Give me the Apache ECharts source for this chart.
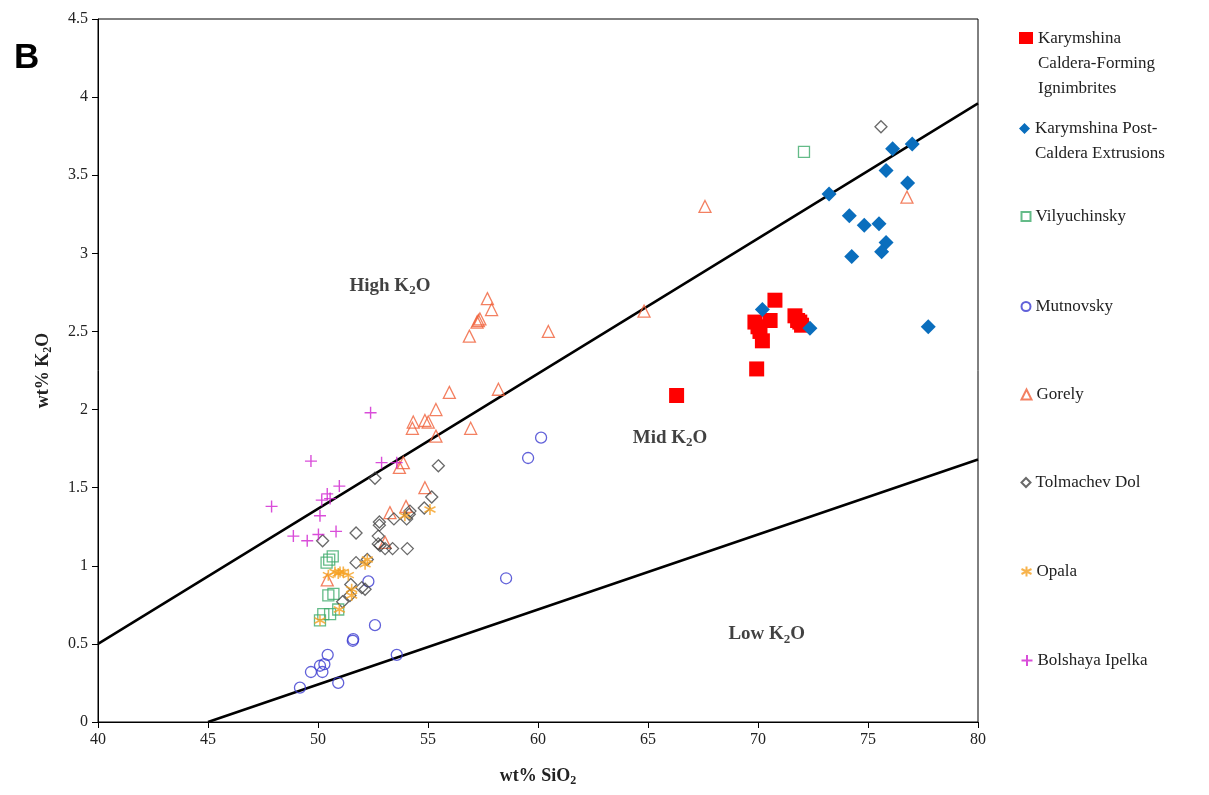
<!DOCTYPE html>
<html>
<head>
<meta charset="utf-8">
<script src="https://cdn.jsdelivr.net/npm/echarts@6/dist/echarts.min.js"></script>
<style>
  html, body { margin: 0; padding: 0; background: #fff; }
  #chart { width: 1209px; height: 795px; }
</style>
</head>
<body>
<div id="chart"></div>
<script>
// wt% SiO2 vs wt% K2O
const calderaIgnimbrites = [
  [66.3, 2.09], [70.77, 2.70], [69.86, 2.56], [70.55, 2.57], [70.09, 2.50],
  [70.2, 2.44], [69.94, 2.26], [71.68, 2.60], [71.9, 2.56], [71.98, 2.54],
  [70.0, 2.53], [71.8, 2.57]
]
const postCaldera = [
  [76.12, 3.67], [77.01, 3.70], [75.82, 3.53], [76.8, 3.45], [73.23, 3.38],
  [74.15, 3.24], [74.83, 3.18], [75.5, 3.19], [75.82, 3.07], [75.62, 3.01],
  [74.26, 2.98], [72.36, 2.52], [77.74, 2.53], [70.2, 2.64]
]
const vilyuchinsky = [
  [72.09, 3.65], [50.51, 1.04], [50.67, 1.06], [50.39, 1.02], [50.47, 0.81],
  [50.7, 0.82], [50.24, 0.69], [50.55, 0.69], [50.09, 0.65], [50.92, 0.72]
]
const mutnovsky = [
  [60.14, 1.82], [59.55, 1.69], [58.55, 0.92], [52.29, 0.90], [52.59, 0.62],
  [51.58, 0.52], [51.6, 0.53], [53.58, 0.43], [50.44, 0.43], [50.29, 0.37],
  [50.09, 0.36], [50.2, 0.32], [49.68, 0.32], [50.92, 0.25], [49.18, 0.22]
]
const gorely = [
  [57.7, 2.71], [57.89, 2.64], [57.29, 2.57], [57.36, 2.58], [57.23, 2.56],
  [56.88, 2.47], [60.47, 2.50], [55.97, 2.11], [58.2, 2.13], [55.36, 2.00],
  [54.33, 1.92], [54.29, 1.88], [54.86, 1.93], [55.01, 1.92], [56.94, 1.88],
  [55.36, 1.83], [53.7, 1.63], [53.88, 1.66], [54.86, 1.50], [64.82, 2.63],
  [67.59, 3.30], [76.77, 3.36], [53.27, 1.34], [54.0, 1.38], [53.05, 1.15],
  [50.42, 0.91]
]
const tolmachevDol = [
  [75.59, 3.81], [55.47, 1.64], [52.59, 1.56], [55.17, 1.44], [54.83, 1.37],
  [54.18, 1.35], [54.15, 1.33], [54.03, 1.30], [53.45, 1.30], [52.79, 1.28],
  [52.79, 1.26], [51.73, 1.21], [52.74, 1.19], [52.74, 1.14], [53.05, 1.11],
  [53.39, 1.11], [54.06, 1.11], [50.21, 1.16], [51.73, 1.02], [52.24, 1.04],
  [52.82, 1.13], [51.49, 0.88], [51.99, 0.86], [52.14, 0.85], [51.12, 0.77],
  [51.45, 0.81]
]
const opala = [
  [55.09, 1.36], [53.95, 1.32], [52.24, 1.04], [52.14, 1.01], [51.0, 0.96],
  [51.15, 0.96], [50.92, 0.95], [51.38, 0.94], [50.77, 0.96], [50.47, 0.94],
  [51.53, 0.85], [51.53, 0.81], [50.97, 0.72], [50.09, 0.65]
]
const bolshayaIpelka = [
  [52.39, 1.98], [49.68, 1.67], [47.89, 1.38], [50.97, 1.51], [50.42, 1.46],
  [50.55, 1.43], [50.17, 1.42], [52.89, 1.66], [53.58, 1.66], [50.09, 1.32],
  [50.82, 1.22], [50.02, 1.20], [49.51, 1.16], [48.88, 1.19]
]

// field boundaries
const highMidLine = [[40, 0.5], [80, 3.96]]
const midLowLine = [[45, 0], [80, 1.68]]

// field labels
const fieldLabels = [
  { name: 'High', value: [53.27, 2.79] },
  { name: 'Mid', value: [66.0, 1.82] },
  { name: 'Low', value: [70.4, 0.56] }
]

const legendNames = [
  'Karymshina\nCaldera-Forming\nIgnimbrites',
  'Karymshina Post-\nCaldera Extrusions',
  'Vilyuchinsky',
  'Mutnovsky',
  'Gorely',
  'Tolmachev Dol',
  'Opala',
  'Bolshaya Ipelka'
]
const legendTops = [21, 111, 199, 289, 377, 465, 554, 643]

// legend icons: multi-line entries keep the marker level with the first line
const legendIcons = [
  'path://M0,0H0.01V0.01H0Z M0,6H14V18H0Z M0,74.99H0.01V75H0Z',
  'path://M0,0H0.01V0.01H0Z M5.5,7L11,12.5L5.5,18L0,12.5Z M0,49.99H0.01V50H0Z',
  null, null, null, null, null, null
]
const legendSizes = [[14, 75], [11, 50], [9, 9], [9, 9], [10, 10], [9, 9], [10, 10], [11, 11]]

const serif = '"Liberation Serif", "DejaVu Serif", serif'
const chart = echarts.init(document.getElementById('chart'))

const hollow = (color, w) => ({ color: 'none', borderColor: color, borderWidth: w || 1.3 })

const options = {
  animation: false,
  backgroundColor: '#fff',
  title: {
    text: 'B',
    left: 9,
    top: 36,
    textStyle: { fontFamily: '"Liberation Sans", Arial, sans-serif', fontWeight: 'bold', fontSize: 35, color: '#000' }
  },
  grid: {
    left: 98, right: 231, top: 19, bottom: 73,
    show: true, borderColor: '#000', borderWidth: 1
  },
  legend: legendNames.map((n, i) => {
    const item = { name: n }
    if (legendIcons[i]) item.icon = legendIcons[i]
    return {
      data: [item],
      left: 1014,
      top: legendTops[i],
      itemWidth: legendSizes[i][0],
      itemHeight: legendSizes[i][1],
      itemGap: 4,
      symbolKeepAspect: false,
      selectedMode: false,
      textStyle: { fontFamily: serif, fontSize: 17, color: '#222', lineHeight: 25 }
    }
  }),
  xAxis: {
    type: 'value',
    min: 40, max: 80, interval: 5,
    name: '{a|wt% SiO}{s|2}',
    nameLocation: 'middle',
    nameGap: 43,
    nameTextStyle: {
      rich: {
        a: { fontFamily: serif, fontWeight: 'bold', fontSize: 18, color: '#222' },
        s: { fontFamily: serif, fontWeight: 'bold', fontSize: 12, color: '#222', padding: [10, 0, 0, 0] }
      }
    },
    splitLine: { show: false },
    axisLine: { onZero: false, lineStyle: { color: '#000', width: 1 } },
    axisTick: { show: true, inside: false, length: 6, lineStyle: { color: '#000' } },
    axisLabel: { fontFamily: serif, fontSize: 16, color: '#222', margin: 10 }
  },
  yAxis: {
    type: 'value',
    min: 0, max: 4.5, interval: 0.5,
    name: '{a|wt% K}{s|2}{a|O}',
    nameLocation: 'middle',
    nameGap: 44,
    nameRotate: 90,
    nameTextStyle: {
      rich: {
        a: { fontFamily: serif, fontWeight: 'bold', fontSize: 18, color: '#222' },
        s: { fontFamily: serif, fontWeight: 'bold', fontSize: 12, color: '#222', padding: [10, 0, 0, 0] }
      }
    },
    splitLine: { show: false },
    axisLine: { onZero: false, lineStyle: { color: '#000', width: 1 } },
    axisTick: { show: true, inside: false, length: 6, lineStyle: { color: '#000' } },
    axisLabel: { fontFamily: serif, fontSize: 16, color: '#222', margin: 10 }
  },
  series: [
    {
      name: 'highMid', type: 'line', data: highMidLine, symbol: 'none',
      lineStyle: { color: '#000', width: 2.5 }, z: 1, silent: true
    },
    {
      name: 'midLow', type: 'line', data: midLowLine, symbol: 'none',
      lineStyle: { color: '#000', width: 2.5 }, z: 1, silent: true
    },
    {
      name: legendNames[0], type: 'scatter', data: calderaIgnimbrites,
      symbol: 'rect', symbolSize: 15,
      itemStyle: { color: '#ff0000', opacity: 1 }
    },
    {
      name: legendNames[1], type: 'scatter', data: postCaldera,
      symbol: 'diamond', symbolSize: 15,
      itemStyle: { color: '#0a6ebd', opacity: 1 }
    },
    {
      name: legendNames[2], type: 'scatter', data: vilyuchinsky,
      symbol: 'rect', symbolSize: 11,
      itemStyle: hollow('#3daa6a')
    },
    {
      name: legendNames[3], type: 'scatter', data: mutnovsky,
      symbol: 'circle', symbolSize: 11,
      itemStyle: hollow('#3a3ad0')
    },
    {
      name: legendNames[4], type: 'scatter', data: gorely,
      symbol: 'triangle', symbolSize: 12,
      itemStyle: hollow('#f0603a')
    },
    {
      name: legendNames[5], type: 'scatter', data: tolmachevDol,
      symbol: 'diamond', symbolSize: 12,
      itemStyle: hollow('#444444')
    },
    {
      name: legendNames[6], type: 'scatter', data: opala,
      symbol: 'path://M5,0V10M0.7,2.5L9.3,7.5M0.7,7.5L9.3,2.5', symbolSize: 11,
      itemStyle: hollow('#f5a020', 1.6)
    },
    {
      name: legendNames[7], type: 'scatter', data: bolshayaIpelka,
      symbol: 'path://M5,0V10M0,5H10', symbolSize: 12,
      itemStyle: hollow('#d020d0', 1.4)
    },
    {
      name: 'fields', type: 'scatter', data: fieldLabels,
      symbolSize: 0, silent: true,
      label: {
        show: true,
        position: 'inside',
        formatter: p => '{a|' + p.name + ' K}{s|2}{a|O}',
        rich: {
          a: { fontFamily: serif, fontWeight: 'bold', fontSize: 19, color: '#111' },
          s: { fontFamily: serif, fontWeight: 'bold', fontSize: 13, color: '#111', padding: [10, 0, 0, 0] }
        }
      }
    }
  ]
}
chart.setOption(options)
</script>
</body>
</html>
